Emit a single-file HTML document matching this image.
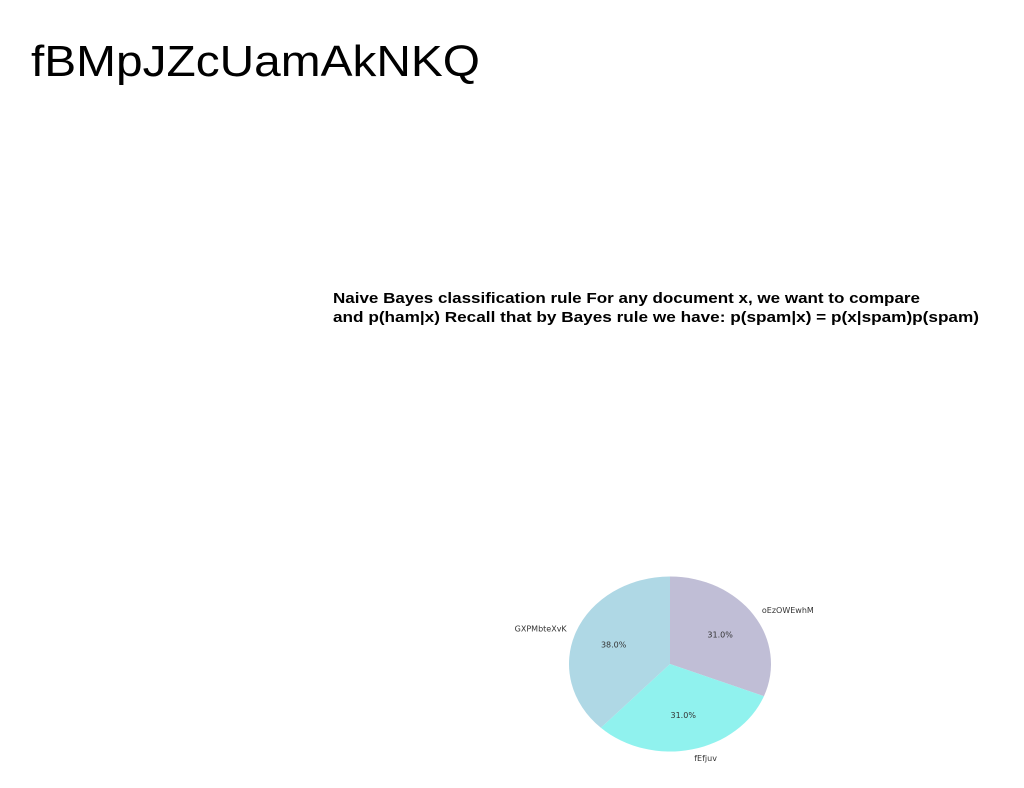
<!DOCTYPE html>
<html><head><meta charset="utf-8"><style>
html,body{margin:0;padding:0;background:#fff;width:1024px;height:788px;overflow:hidden}
svg{display:block}
</style></head><body>
<svg id="chart" width="1024" height="788" viewBox="0 0 1024 788">
<text x="31" y="76" font-family="Liberation Sans, sans-serif" font-size="44" fill="#000" textLength="449" lengthAdjust="spacingAndGlyphs">fBMpJZcUamAkNKQ</text>
<text x="333" y="303" font-family="Liberation Sans, sans-serif" font-weight="bold" font-size="14.5" fill="#000" textLength="587" lengthAdjust="spacingAndGlyphs">Naive Bayes classification rule For any document x, we want to compare</text>
<text x="333" y="322" font-family="Liberation Sans, sans-serif" font-weight="bold" font-size="14.5" fill="#000" textLength="646" lengthAdjust="spacingAndGlyphs">and p(ham|x) Recall that by Bayes rule we have: p(spam|x) = p(x|spam)p(spam)</text>
<g id="pie"></g>
</svg>
<script>
const categories = ["oEzOWEwhM", "fEfjuv", "GXPMbteXvK"];
const values = [31.0, 31.0, 38.0];
const colors = ["#c0bed6", "#90f2ee", "#afd8e5"];

const cx = 670, cy = 664, rx = 101, ry = 87.5;
const g = document.getElementById('pie');
const NS = 'http://www.w3.org/2000/svg';
const total = values.reduce((a, b) => a + b, 0);
function pt(angDeg, f) {
  const a = angDeg * Math.PI / 180;
  return [cx + f * rx * Math.cos(a), cy - f * ry * Math.sin(a)];
}
let start = 90;
values.forEach((v, i) => {
  const sweep = v / total * 360;
  const end = start - sweep;
  const [x1, y1] = pt(start, 1), [x2, y2] = pt(end, 1);
  const large = sweep > 180 ? 1 : 0;
  const p = document.createElementNS(NS, 'path');
  p.setAttribute('d', `M${cx},${cy} L${x1},${y1} A${rx},${ry} 0 ${large} 1 ${x2},${y2} Z`);
  p.setAttribute('fill', colors[i]);
  
  
  g.appendChild(p);
  const mid = start - sweep / 2;
  const [px, py] = pt(mid, 0.6);
  const t = document.createElementNS(NS, 'text');
  t.setAttribute('x', px); t.setAttribute('y', py + 3);
  t.setAttribute('text-anchor', 'middle');
  t.setAttribute('font-family', 'DejaVu Sans, sans-serif');
  t.setAttribute('font-size', '8');
  t.setAttribute('fill', '#333');
  t.textContent = v.toFixed(1) + '%';
  
  
  g.appendChild(t);
  const [lx, ly] = pt(mid, 1.1);
  const c = Math.cos(mid * Math.PI / 180);
  const l = document.createElementNS(NS, 'text');
  l.setAttribute('x', lx); l.setAttribute('y', ly + 3);
  l.setAttribute('text-anchor', Math.abs(c) < 0.2 ? 'middle' : (c > 0 ? 'start' : 'end'));
  l.setAttribute('font-family', 'DejaVu Sans, sans-serif');
  l.setAttribute('font-size', '8');
  l.setAttribute('fill', '#333');
  l.textContent = categories[i];
  
  
  g.appendChild(l);
  start = end;
});
</script>
</body></html>
